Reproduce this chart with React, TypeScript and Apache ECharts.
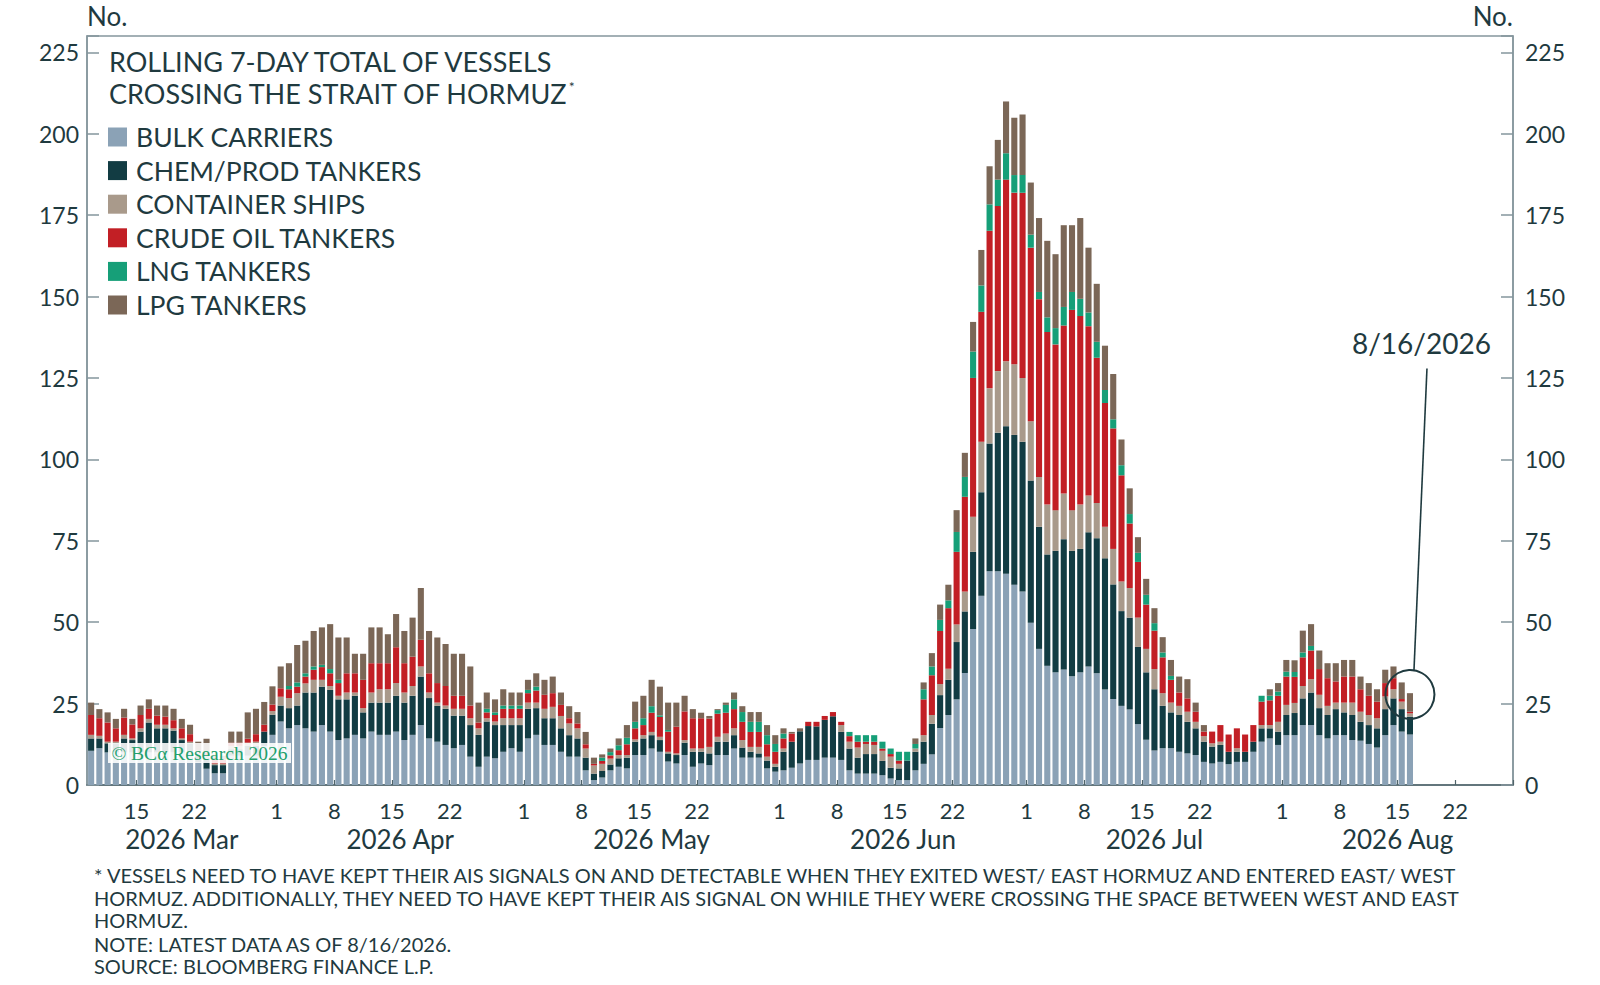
import React, { useEffect, useRef } from "react";
import * as echarts from "echarts";

// ---------- axis calendar ----------
const START_UTC = Date.UTC(2026, 2, 9); // 2026-03-09
const AXIS_DAYS = 173; // 2026-03-09 .. 2026-08-28
const DATES: string[] = Array.from({ length: AXIS_DAYS }, (_, i) =>
  new Date(START_UTC + i * 86400000).toISOString().slice(0, 10)
);
const LABELLED_DAYS = [1, 8, 15, 22];
const MONTH_ABBR = ["Jan", "Feb", "Mar", "Apr", "May", "Jun", "Jul", "Aug", "Sep", "Oct", "Nov", "Dec"];

// ---------- series values (rolling 7-day totals, 2026-03-09 .. 2026-08-16) ----------
const SERIES_NAMES = [
  "BULK CARRIERS",
  "CHEM/PROD TANKERS",
  "CONTAINER SHIPS",
  "CRUDE OIL TANKERS",
  "LNG TANKERS",
  "LPG TANKERS",
];

const BULK = [
  10.5, 11.3, 10, 10, 10, 10, 10, 10, 10, 10,
  10, 10, 10, 7, 5, 3.6, 3.6, 9, 9, 9,
  9, 12, 15.4, 19.5, 17.4, 18.4, 17.4, 16.4, 18.4, 16.4,
  13.8, 14.3, 15.4, 14.3, 16.4, 15.4, 15.4, 16.4, 13.8, 15.4,
  18.4, 14.3, 13.3, 12.3, 11.3, 12.3, 8.7, 5.6, 8.7, 8.2,
  10.2, 11.3, 10.2, 14.3, 15.4, 12.3, 12.3, 10.2, 8.7, 8.7,
  4.5, 1.5, 2.3, 4.5, 5.6, 5.1, 9.2, 9.2, 11.2, 10.2,
  7.2, 6.6, 9.2, 5.6, 6.6, 6.1, 9.2, 9.2, 11.2, 8.4,
  8.4, 8.4, 5.1, 4.1, 4.5, 5.3, 6.6, 7.7, 7.7, 8.4,
  8.4, 7.7, 4.5, 3.5, 3.5, 3.5, 3, 2, 1.5, 1.5,
  4.5, 6.5, 9.4, 17.5, 21.5, 26.3, 34.4, 47.9, 58.1, 65.6,
  65.6, 64.9, 61.5, 59.4, 49.8, 41.8, 36.6, 34.6, 35.5, 33.4,
  34.6, 36.4, 34.3, 29.3, 26.4, 24.3, 23.2, 18.7, 13.9, 10.6,
  11.3, 11.3, 10.2, 9.7, 9.2, 7.1, 6.6, 7.1, 6.4, 7.1,
  7.1, 10.2, 13.3, 14.3, 12.3, 15.3, 15.3, 18.4, 18.4, 15.3,
  14.3, 15.3, 15.3, 13.8, 13.6, 12.6, 11.5, 15.3, 18.4, 16.4,
  15.5,
];

const CHEM = [
  3.8, 3.0, 2.8, 2.8, 4.3, 3.8, 6.4, 9.2, 7.4, 7.4,
  6.7, 3.8, 2.8, 2, 3, 2.5, 2.5, 2, 2, 3,
  3, 4.4, 6.2, 4.9, 6.2, 6, 11, 12, 11.8, 12.8,
  12.5, 12, 12, 8, 8.9, 9.9, 9.9, 11, 11.5, 12,
  14.9, 12.4, 11, 11.1, 10, 9, 9.7, 9.8, 10.8, 10.2,
  8.2, 7.1, 8.2, 9.1, 8.2, 8.2, 8.2, 7.2, 6.6, 5.6,
  3.9, 2, 2, 1.8, 2.6, 3.3, 4.1, 5.1, 4.1, 3.6,
  2.5, 2.6, 3.8, 4.6, 3.6, 3.6, 4.1, 4.1, 4.1, 3.1,
  1.8, 1.3, 2.4, 1.5, 5.7, 8, 9.9, 10.4, 10.3, 11.6,
  12.7, 8.6, 6.7, 4.9, 6, 6, 4.4, 3.3, 3.6, 6,
  5.7, 6.8, 9.4, 10.1, 10.8, 17.6, 18.9, 23.7, 31.8, 39.3,
  42.6, 45.3, 46, 46, 43.7, 37.5, 34.2, 37.3, 40, 38.5,
  37.9, 41.2, 41.5, 40.3, 35.2, 29.1, 28.2, 23.7, 20.7, 18.8,
  13, 11, 11.3, 9.7, 8.2, 6.2, 5.2, 5.2, 3.8, 3.1,
  3.1, 3.1, 4.1, 3.1, 4.1, 6.2, 6.8, 8.2, 10, 8.3,
  7.2, 8, 7, 7.7, 5.8, 5.8, 5.9, 8, 8.2, 6.9,
  5.5,
];

const CONTAINER = [
  1.1, 0.8, 0.5, 0.5, 1.1, 0.5, 1, 1.1, 1.1, 1.1,
  0.7, 0.5, 0.5, 1, 1, 0.5, 0.5, 1, 1, 1,
  1.3, 0, 1.1, 2.7, 3.1, 3.8, 2.8, 3.9, 2.1, 1.2,
  1.1, 2.1, 1, 1.3, 3.1, 4.1, 4.1, 3.9, 3.1, 3,
  3.1, 1.7, 1, 1, 2.1, 2.1, 2.1, 2, 1, 1.1,
  2.1, 2.1, 2.1, 1.9, 1.7, 2.9, 3.5, 3.8, 3.6, 3.1,
  2.8, 2.5, 2.2, 1.8, 1, 0.8, 0.7, 1, 1, 1,
  0.5, 0.5, 0.8, 1, 1, 2, 1.5, 2.5, 2.1, 2.3,
  1.5, 2, 1.2, 0.9, 1, 0, 0, 0, 0, 0,
  0, 2.1, 2.1, 3.1, 3.1, 2.8, 3.1, 3.4, 1.4, 0,
  1, 2, 2.7, 3.4, 3.4, 5.4, 6.1, 10.8, 15.5, 16.9,
  18.9, 19.9, 21.7, 19.6, 18.2, 15.3, 15.3, 12.5, 14, 12.5,
  13.6, 11.3, 10.8, 9.7, 10.9, 9.1, 9.1, 9, 7.2, 6.2,
  3.9, 3, 2.8, 3.1, 2, 1.7, 1, 1, 0, 1.1,
  0, 0, 1, 1, 3, 3.1, 3.1, 3.8, 4.1, 4.1,
  2.8, 2, 3, 3.8, 3.1, 3.1, 3.1, 3.9, 2.8, 2.3,
  1,
];

const CRUDE = [
  6.1, 5.4, 5.9, 4.1, 5.3, 4.3, 4.1, 3.1, 2.8, 2.5,
  2.5, 3.1, 2.3, 0.5, 1, 1.2, 1.2, 1, 1, 1.2,
  2.3, 2.1, 2, 2.6, 2.7, 2, 2.1, 3.1, 3.9, 3.9,
  3.9, 5.9, 5.9, 8.7, 9, 8, 8, 11, 9, 9,
  8.2, 5.9, 6, 6, 4, 4, 3.9, 1.8, 1.8, 2,
  2.9, 2.9, 2.9, 2.9, 3.7, 4.3, 4.2, 3.4, 1.6, 1.5,
  1.3, 0.5, 0.9, 1, 1.5, 3.3, 3.4, 3.1, 5.9, 6.1,
  6.2, 8.2, 8.8, 9.3, 9.3, 8.7, 7.1, 6.4, 5.9, 5.6,
  4.6, 4.6, 3.8, 3.7, 3.1, 2.5, 0, 1.3, 1.4, 1.2,
  1.3, 1, 1.7, 1.8, 0.7, 1, 0.7, 0.8, 1, 0,
  0, 11, 12.2, 16.3, 18.6, 22.3, 29.1, 42.6, 39.9, 48.4,
  50.7, 55.8, 52.7, 56.9, 53.3, 54.6, 53, 50.9, 51.6, 61.5,
  57.9, 52, 44.6, 38, 37, 32.6, 19.8, 17.1, 13.6, 11.8,
  11, 7, 4.1, 4.1, 3.1, 1.4, 3.6, 5.1, 5.3, 6.1,
  5.3, 5.1, 7.2, 7.6, 8, 8.7, 8, 8.8, 8.8, 7.9,
  8.5, 6.5, 8, 8, 6.9, 5.9, 5.1, 4.1, 3.4, 0.8,
  0.5,
];

const LNG = [
  0, 0, 0, 0, 0, 0, 0, 0, 0, 0,
  0, 0, 0, 0, 0, 0, 0, 0, 0, 0,
  0, 0, 0, 0, 1, 1.3, 1, 1, 0.7, 1.3,
  1, 0, 0, 0, 0, 0, 0, 0, 0, 0,
  0, 0, 0, 0, 0, 0, 0, 0, 1.1, 0.8,
  1, 1, 1, 1, 1.2, 0, 0, 0, 0, 0,
  0, 0, 1, 1, 1.5, 2, 2, 2.1, 2, 0.5,
  0.5, 0, 0, 0, 0, 0, 1.1, 2.4, 3, 3,
  3.1, 3.1, 2.8, 2.4, 1.5, 0, 0, 0, 0, 0,
  0, 0, 1.3, 2, 2, 2, 2.1, 1.7, 2.7, 2.7,
  1.4, 3.1, 2.7, 3.4, 2.4, 6.1, 6.1, 8.1, 8.1, 8.1,
  8.1, 8.1, 5.4, 5.4, 4, 2.2, 4.5, 5, 5.7, 5.5,
  5.3, 4.2, 4.9, 4, 2.8, 3.1, 2.9, 2.8, 3, 2.3,
  1.5, 1.2, 0, 0, 0, 0, 0, 0, 0, 0,
  0, 0, 1.8, 1.4, 1.3, 1.5, 1.5, 1.5, 1.4, 0,
  0, 0, 0, 0, 0, 0, 0, 0, 0, 0,
  0,
];

const LPG = [
  3.8, 2.8, 3.1, 2.9, 2.7, 1.7, 2.9, 2.9, 3.1, 3.4,
  3.5, 2.9, 2.9, 2.8, 4.2, 1.5, 1.2, 3.4, 3.4, 8.1,
  7.8, 7, 5.6, 6.7, 7, 11.5, 10, 10.9, 11.5, 13.8,
  13, 11, 6, 8, 11, 11, 8.9, 10.2, 9.9, 12,
  15.9, 13, 14, 12.9, 12.9, 12.9, 12, 6.1, 5, 4,
  5, 4, 4, 3.1, 4.1, 4.6, 5.1, 3.8, 3.7, 3.5,
  3.8, 1.9, 1, 1.1, 2.1, 3.9, 6.2, 6.9, 8.1, 8.8,
  8.4, 7.4, 4.8, 2.8, 1.7, 0.8, 0.3, 0.7, 2.1, 1.8,
  3, 3, 3.1, 2.7, 1.6, 0.5, 0.9, 0, 0, 0,
  0, 0, 0, 0, 0, 0, 0, 0, 0, 0,
  1.7, 2.1, 4.1, 4.7, 4.8, 6.7, 7.4, 9.1, 10.9, 11.7,
  12.2, 15.9, 17.6, 18.6, 16, 22.7, 23.5, 22.7, 25.1, 20.5,
  24.8, 19.9, 17.8, 13.6, 13.9, 7.9, 7.9, 4.8, 4.9, 4.6,
  4.7, 4.9, 4.9, 5.9, 2.8, 2, 0, 0, 0, 0,
  0, 0, 0, 2, 2.6, 3.6, 3.6, 6.7, 6.7, 5.7,
  4.6, 5.6, 5.1, 5.1, 3.9, 3.9, 3.8, 4.1, 3.6, 5.1,
  5.7,
];

const SERIES_VALUES = [BULK, CHEM, CONTAINER, CRUDE, LNG, LPG];

// annotation: last data point
const ANNOT_DATE = "2026-08-16";
const ANNOT_VALUE = 27.8;
const ANNOT_TEXT = "8/16/2026";

// texts
const TITLE_LINES = ["ROLLING 7-DAY TOTAL OF VESSELS", "CROSSING THE STRAIT OF HORMUZ"];
const FOOTNOTES = [
  "* VESSELS NEED TO HAVE KEPT THEIR AIS SIGNALS ON AND DETECTABLE WHEN THEY EXITED WEST/ EAST HORMUZ AND ENTERED EAST/ WEST",
  "HORMUZ. ADDITIONALLY, THEY NEED TO HAVE KEPT THEIR AIS SIGNAL ON WHILE THEY WERE CROSSING THE SPACE BETWEEN WEST AND EAST",
  "HORMUZ.",
  "NOTE: LATEST DATA AS OF 8/16/2026.",
  "SOURCE: BLOOMBERG FINANCE L.P.",
];
const WATERMARK = "© BCα Research 2026";

// ---------- style ----------
const W = 1600;
const H = 985;
const GRID = { left: 87, right: 87, top: 36, bottom: 200 };
const BAND = (W - GRID.left - GRID.right) / AXIS_DAYS;
const FONT = "Lato, 'Noto Sans', sans-serif";
const TEXT = "#1f3a3f";
const FRAME = "#85969d";
const COLORS = ["#8ba2b6", "#123c43", "#a99a8b", "#c21f25", "#169f78", "#7b6757"];
const LEGEND_FONT = 26.5;

// month label placement: middle of each visible month
const MONTH_LABEL_AT: Record<number, { text: string; half: boolean }> = {};
(() => {
  let i = 0;
  while (i < DATES.length) {
    const ym = DATES[i].slice(0, 7);
    let j = i;
    while (j < DATES.length && DATES[j].slice(0, 7) === ym) j++;
    const len = j - i;
    MONTH_LABEL_AT[i + Math.floor(len / 2)] = {
      text: `${ym.slice(0, 4)} ${MONTH_ABBR[Number(ym.slice(5, 7)) - 1]}`,
      half: len % 2 === 0,
    };
    i = j;
  }
})();

const isLabelledDay = (v: string) => LABELLED_DAYS.includes(Number(v.slice(8, 10)));

export default function App() {
  const ref = useRef<HTMLDivElement>(null);

  useEffect(() => {
    if (!ref.current) return;
    const chart = echarts.init(ref.current, undefined, { renderer: "svg" });

    const yAxisBase = (right: boolean) => ({
      type: "value" as const,
      position: right ? "right" : "left",
      min: 0,
      max: 230,
      interval: 25,
      axisLine: { show: true, lineStyle: { color: FRAME, width: 1.5 } },
      axisTick: { show: true, inside: true, length: 12, lineStyle: { color: FRAME, width: 1.5 } },
      axisLabel: {
        margin: right ? 12 : 8,
        fontSize: 23,
        color: TEXT,
        fontFamily: FONT,
        formatter: (v: number) => (v % 25 === 0 ? String(v) : ""),
      },
      splitLine: { show: false },
    });

    const option: any = {
      animation: false,
      backgroundColor: "#ffffff",
      grid: {
        left: GRID.left,
        right: GRID.right,
        top: GRID.top,
        bottom: GRID.bottom,
        show: true,
        borderColor: FRAME,
        borderWidth: 1.5,
        containLabel: false,
      },
      legend: {
        data: SERIES_NAMES,
        orient: "vertical",
        left: 108,
        top: 122,
        padding: 0,
        itemWidth: 19,
        itemHeight: 19,
        itemGap: 33.6 - 30,
        icon: "rect",
        selectedMode: false,
        textStyle: {
          fontSize: LEGEND_FONT,
          color: TEXT,
          fontFamily: FONT,
          padding: [0, 0, 0, 4],
          lineHeight: 30,
        },
      },
      xAxis: [
        {
          type: "category",
          data: DATES,
          position: "bottom",
          boundaryGap: true,
          axisLine: { show: true, lineStyle: { color: "#4f6369", width: 1.5 } },
          axisTick: {
            show: true,
            inside: true,
            length: 5,
            interval: (_i: number, v: string) => isLabelledDay(v),
            lineStyle: { color: "#4f6369", width: 1.2 },
          },
          axisLabel: {
            interval: 0,
            margin: 14,
            formatter: (v: string) => (isLabelledDay(v) ? `{d|${Number(v.slice(8, 10))}}` : ""),
            rich: {
              d: { fontSize: 22, color: TEXT, fontFamily: FONT, padding: [0, BAND, 0, 0] },
            },
          },
          splitLine: { show: false },
        },
        {
          type: "category",
          data: DATES,
          position: "bottom",
          boundaryGap: true,
          axisLine: { show: false },
          axisTick: { show: false },
          axisLabel: {
            interval: 0,
            margin: 41,
            formatter: (_v: string, idx: number) => {
              const m = MONTH_LABEL_AT[idx];
              if (!m) return "";
              return m.half ? `{h|${m.text}}` : `{m|${m.text}}`;
            },
            rich: {
              m: { fontSize: 26, color: TEXT, fontFamily: FONT },
              h: { fontSize: 26, color: TEXT, fontFamily: FONT, padding: [0, BAND, 0, 0] },
            },
          },
          splitLine: { show: false },
        },
      ],
      yAxis: [yAxisBase(false), yAxisBase(true)],
      series: SERIES_NAMES.map((name, k) => ({
        name,
        type: "bar",
        stack: "vessels",
        xAxisIndex: 0,
        yAxisIndex: 0,
        data: SERIES_VALUES[k],
        barWidth: "74%",
        itemStyle: { color: COLORS[k] },
        emphasis: { disabled: true },
      })),
    };

    chart.setOption(option);

    const p = chart.convertToPixel({ seriesIndex: 0 }, [ANNOT_DATE, ANNOT_VALUE]) as number[];
    const cx = p[0];
    const cy = p[1];

    const graphic: any[] = [
      {
        type: "text",
        z: 100,
        style: { text: "No.", x: 87, y: 16, fontSize: 26, fontFamily: FONT, fill: TEXT, align: "left", verticalAlign: "middle" },
      },
      {
        type: "text",
        z: 100,
        style: { text: "No.", x: W - GRID.right, y: 16, fontSize: 26, fontFamily: FONT, fill: TEXT, align: "right", verticalAlign: "middle" },
      },
      {
        type: "text",
        z: 100,
        style: { text: TITLE_LINES[0], x: 109, y: 61, fontSize: 27, fontFamily: FONT, fill: TEXT, align: "left", verticalAlign: "middle" },
      },
      {
        type: "text",
        z: 100,
        style: {
          text: `${TITLE_LINES[1]}{s|*}`,
          x: 109,
          y: 93,
          fontSize: 27,
          fontFamily: FONT,
          fill: TEXT,
          align: "left",
          verticalAlign: "middle",
          rich: { s: { fontSize: 14, fontFamily: FONT, fill: TEXT, verticalAlign: "top" } },
        },
      },
      {
        type: "group",
        z: 100,
        children: [
          { type: "rect", z: 100, shape: { x: 108, y: 743, width: 183, height: 20 }, style: { fill: "rgba(255,255,255,0.88)" } },
          {
            type: "text",
            z: 101,
            style: {
              text: WATERMARK,
              x: 199.5,
              y: 753.5,
              fontSize: 19.5,
              fontFamily: "'Liberation Serif', 'DejaVu Serif', serif",
              fill: "#22a06c",
              align: "center",
              verticalAlign: "middle",
            },
          },
        ],
      },
      ...FOOTNOTES.map((t, k) => ({
        type: "text",
        z: 100,
        style: {
          text: t,
          x: 94,
          y: [875, 898, 920, 944, 966][k],
          fontSize: 20,
          fontFamily: FONT,
          fill: TEXT,
          align: "left",
          verticalAlign: "middle",
        },
      })),
      {
        type: "circle",
        z: 100,
        shape: { cx, cy, r: 24.5 },
        style: { fill: "none", stroke: TEXT, lineWidth: 2 },
      },
      {
        type: "line",
        z: 100,
        shape: { x1: cx + 17, y1: cy - 326, x2: cx + 4, y2: cy - 24 },
        style: { stroke: TEXT, lineWidth: 1.6 },
      },
      {
        type: "text",
        z: 100,
        style: {
          text: ANNOT_TEXT,
          x: cx + 11.5,
          y: cy - 351,
          fontSize: 28,
          fontFamily: FONT,
          fill: TEXT,
          align: "center",
          verticalAlign: "middle",
        },
      },
    ];

    chart.setOption({ graphic });

    return () => chart.dispose();
  }, []);

  return (
    <div
      ref={ref}
      style={{ position: "fixed", left: 0, top: 0, width: W, height: H, background: "#fff" }}
    />
  );
}
